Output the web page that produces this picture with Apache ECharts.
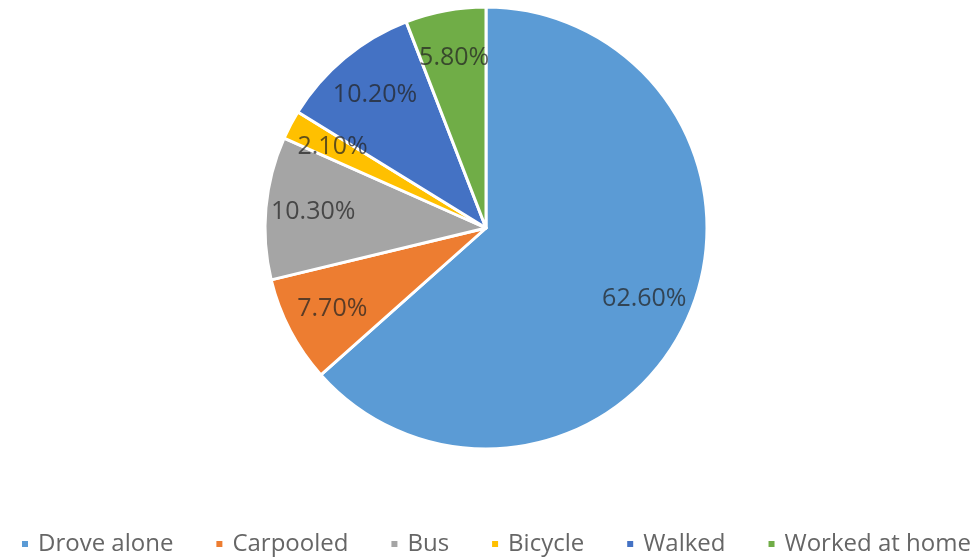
<!DOCTYPE html>
<html>
<head>
<meta charset="utf-8">
<script src="https://cdn.jsdelivr.net/npm/echarts@6/dist/echarts.min.js"></script>
<style>html,body{margin:0;padding:0;background:#fff}#c{width:977px;height:557px}</style>
</head>
<body>
<div id="c"></div>
<script>
const categories = ['Drove alone', 'Carpooled', 'Bus', 'Bicycle', 'Walked', 'Worked at home'];
const values = [62.6, 7.7, 10.3, 2.1, 10.2, 5.8];
const colors = ['#5B9BD5', '#ED7D31', '#A5A5A5', '#FFC000', '#4472C4', '#70AD47'];

const data = categories.map((n, i) => ({ name: n, value: values[i], itemStyle: { color: colors[i] } }));
const FONT = "'Open Sans', sans-serif";
const chart = echarts.init(document.getElementById('c'), null, { renderer: 'canvas' });
chart.setOption({
  animation: false,
  color: colors,
  legend: {
    data: categories,
    top: 527,
    left: 15,
    icon: 'rect',
    itemWidth: 8,
    itemHeight: 8,
    itemGap: 41,
    textStyle: { fontFamily: FONT, fontSize: 24, color: '#666666', padding: [0, 0, 0, 4] }
  },
  series: [
    {
      type: 'pie',
      center: [486, 228],
      radius: [0, 221],
      startAngle: 90,
      clockwise: true,
      label: { show: false },
      labelLine: { show: false },
      itemStyle: { borderColor: '#ffffff', borderWidth: 3 },
      data: data
    },
    {
      type: 'pie',
      center: [486, 228],
      radius: [120, 221],
      startAngle: 90,
      clockwise: true,
      silent: true,
      legendHoverLink: false,
      itemStyle: { color: 'rgba(0,0,0,0)', borderWidth: 0 },
      label: {
        show: true,
        position: 'inside',
        formatter: p => p.value.toFixed(2) + '%',
        fontFamily: FONT,
        fontSize: 25,
        color: 'rgba(35,35,35,0.72)'
      },
      labelLine: { show: false },
      emphasis: { disabled: true },
      data: categories.map((n, i) => ({ name: n, value: values[i] }))
    }
  ]
});
</script>
</body>
</html>
